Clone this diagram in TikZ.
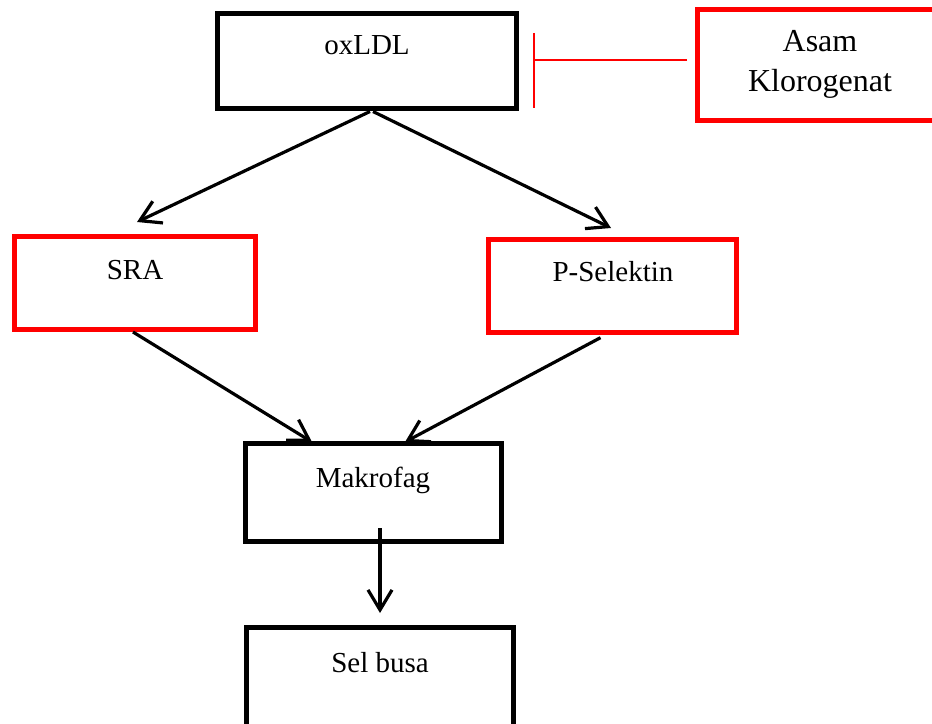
\documentclass[tikz,border=0pt]{standalone}
\usepackage{fontspec}
\setmainfont{Liberation Serif}
\usetikzlibrary{arrows.meta}
\begin{document}
\begin{tikzpicture}[x=0.75pt,y=-0.75pt,
  box/.style={draw=black,line width=3.75pt,rectangle,inner sep=0pt},
  redbox/.style={draw=red,line width=3.75pt,rectangle,inner sep=0pt},
  lbl/.style={inner sep=0pt,anchor=base,font=\fontsize{21.75pt}{26pt}\selectfont},
  flow/.style={draw=black,line width=2.4pt,-{Straight Barb[length=15pt,width=18pt,line width=2.4pt]}},
  inhib/.style={draw=red,line width=1.5pt}]
\clip (0,0) rectangle (932,724);

% boxes (sizes measured between stroke centres)
\node[box, minimum width=298.5*0.75pt, minimum height=95*0.75pt] (ox) at (367,61.5) {};
\node[redbox, minimum width=260*0.75pt, minimum height=111*0.75pt] (akg) at (827.5,65) {};
\node[redbox, minimum width=241*0.75pt, minimum height=93*0.75pt] (sra) at (135,283) {};
\node[redbox, minimum width=248*0.75pt, minimum height=93*0.75pt] (psel) at (612.5,286) {};
\node[box, minimum width=256*0.75pt, minimum height=98*0.75pt] (mak) at (373.5,492.5) {};
\node[box, minimum width=267*0.75pt, minimum height=130*0.75pt] (sel) at (380,692.5) {};

% labels (a two-line label sits on the baseline of its last line)
\node[lbl] (oxt) at (367,55) {oxLDL};
\node[inner sep=0pt,anchor=base,align=center,font=\fontsize{24pt}{30pt}\selectfont] (akgt) at (820,92) {Asam\\Klorogenat};
\node[lbl] (srat) at (135,279) {SRA};
\node[lbl] (pselt) at (613,281) {P-Selektin};
\node[lbl] (makt) at (373,487) {Makrofag};
\node[lbl] (selt) at (380,672) {Sel busa};

% arrow ends
\coordinate (sraIn) at (137,222);
\coordinate (pselIn) at (611,228);
\coordinate (makInL) at (312,442);
\coordinate (makInR) at (405,442);
\coordinate (makOut) at (380,528);
\coordinate (selIn) at (380,613);
\coordinate (barTop) at (534,33);
\coordinate (barBot) at (534,108);
\coordinate (barMid) at (534,60);
\coordinate (akgOut) at (687,60);

% connectors
\draw[flow] ([xshift=2.25pt]ox.south) -- (sraIn);
\draw[flow] ([xshift=4.5pt]ox.south) -- (pselIn);
\draw[flow] ([xshift=-1.5pt]sra.south) -- (makInL);
\draw[flow] ([xshift=-9pt,yshift=-2pt]psel.south) -- (makInR);
\draw[flow] (makOut) -- (selIn);

% inhibition
\draw[inhib] (akgOut) -- (barMid);
\draw[inhib] (barTop) -- (barBot);
\end{tikzpicture}
\end{document}
